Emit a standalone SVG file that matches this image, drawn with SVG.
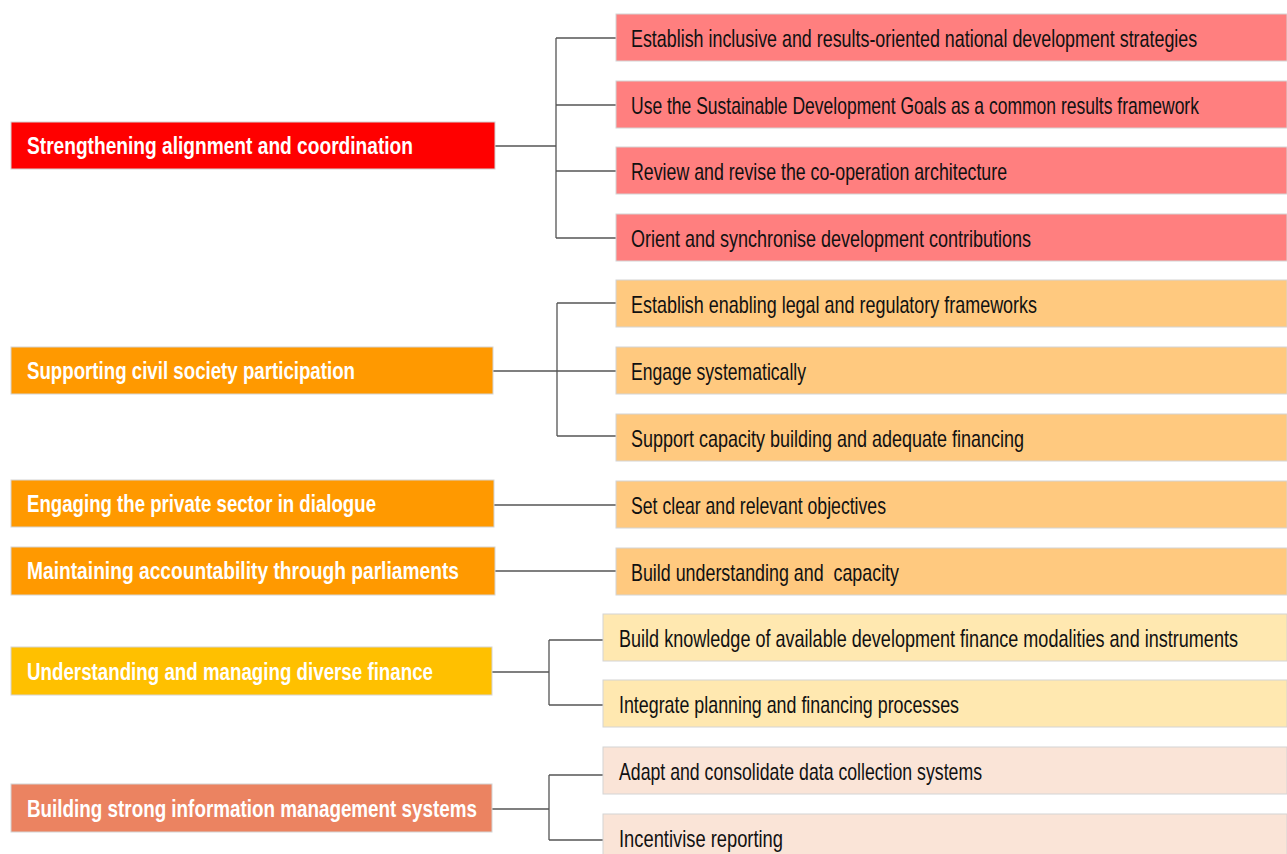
<svg xmlns="http://www.w3.org/2000/svg" width="1287" height="854" viewBox="0 0 1287 854">
<style>
.lt{font-family:"Liberation Sans Narrow","Liberation Sans",Arial,sans-serif;font-weight:bold;font-size:24px;fill:#ffffff}
.rt{font-family:"Liberation Sans Narrow","Liberation Sans",Arial,sans-serif;font-size:24px;fill:#111111}
.bx{stroke:#d4d4d4;stroke-width:1}
.c{fill:none;stroke:#555555;stroke-width:1.3}
.red{fill:#ff0000}.salmon{fill:#ff7f7f}
.org{fill:#ff9900}.lorg{fill:#ffc97f}
.gold{fill:#ffc000}.lyel{fill:#ffe8b0}
.coral{fill:#eb8361}.peach{fill:#fae4d7}
</style>
<rect width="1287" height="854" fill="#ffffff"/>
<g id="connectors">
<path class="c" d="M495,146H556M556,38V238M556,38H616M556,105H616M556,171H616M556,238H616"/>
<path class="c" d="M493,371H557M557,303V436M557,303H616M557,371H616M557,436H616"/>
<path class="c" d="M494,505H616"/>
<path class="c" d="M495,571H616"/>
<path class="c" d="M492,672H549M549,640V705M549,640H603M549,705H603"/>
<path class="c" d="M492,809H549M549,775V840M549,775H603M549,840H603"/>
</g>
<g id="n-strengthening"><rect class="bx red" x="11" y="122" width="484" height="47"/><text class="lt" x="27" y="154" textLength="386" lengthAdjust="spacingAndGlyphs">Strengthening alignment and coordination</text></g>
<g id="n-civil"><rect class="bx org" x="11" y="347" width="482" height="47"/><text class="lt" x="27" y="379" textLength="328" lengthAdjust="spacingAndGlyphs">Supporting civil society participation</text></g>
<g id="n-private"><rect class="bx org" x="11" y="480" width="483" height="47"/><text class="lt" x="27" y="512" textLength="349" lengthAdjust="spacingAndGlyphs">Engaging the private sector in dialogue</text></g>
<g id="n-parliaments"><rect class="bx org" x="11" y="547" width="484" height="48"/><text class="lt" x="27" y="579" textLength="432" lengthAdjust="spacingAndGlyphs">Maintaining accountability through parliaments</text></g>
<g id="n-finance"><rect class="bx gold" x="11" y="647" width="481" height="48"/><text class="lt" x="27" y="680" textLength="406" lengthAdjust="spacingAndGlyphs">Understanding and managing diverse finance</text></g>
<g id="n-information"><rect class="bx coral" x="11" y="784" width="481" height="48"/><text class="lt" x="27" y="817" textLength="450" lengthAdjust="spacingAndGlyphs">Building strong information management systems</text></g>

<g id="r1"><rect class="bx salmon" x="616" y="14" width="671" height="47"/><text class="rt" transform="translate(631,47) scale(0.745,1)" textLength="760" lengthAdjust="spacingAndGlyphs">Establish inclusive and results-oriented national development strategies</text></g>
<g id="r2"><rect class="bx salmon" x="616" y="81" width="671" height="47"/><text class="rt" transform="translate(631,114) scale(0.73,1)" textLength="778" lengthAdjust="spacingAndGlyphs">Use the Sustainable Development Goals as a common results framework</text></g>
<g id="r3"><rect class="bx salmon" x="616" y="147" width="671" height="47"/><text class="rt" x="631" y="180" textLength="376" lengthAdjust="spacingAndGlyphs">Review and revise the co-operation architecture</text></g>
<g id="r4"><rect class="bx salmon" x="616" y="214" width="671" height="47"/><text class="rt" x="631" y="247" textLength="400" lengthAdjust="spacingAndGlyphs">Orient and synchronise development contributions</text></g>
<g id="r5"><rect class="bx lorg" x="616" y="280" width="671" height="47"/><text class="rt" x="631" y="313" textLength="406" lengthAdjust="spacingAndGlyphs">Establish enabling legal and regulatory frameworks</text></g>
<g id="r6"><rect class="bx lorg" x="616" y="347" width="671" height="47"/><text class="rt" x="631" y="380" textLength="175" lengthAdjust="spacingAndGlyphs">Engage systematically</text></g>
<g id="r7"><rect class="bx lorg" x="616" y="414" width="671" height="47"/><text class="rt" x="631" y="447" textLength="393" lengthAdjust="spacingAndGlyphs">Support capacity building and adequate financing</text></g>
<g id="r8"><rect class="bx lorg" x="616" y="481" width="671" height="47"/><text class="rt" x="631" y="514" textLength="255" lengthAdjust="spacingAndGlyphs">Set clear and relevant objectives</text></g>
<g id="r9"><rect class="bx lorg" x="616" y="548" width="671" height="47"/><text class="rt" x="631" y="581" textLength="268" lengthAdjust="spacingAndGlyphs" xml:space="preserve">Build understanding and  capacity</text></g>
<g id="r10"><rect class="bx lyel" x="603" y="614" width="684" height="47"/><text class="rt" transform="translate(619,647) scale(0.753,1)" textLength="822" lengthAdjust="spacingAndGlyphs">Build knowledge of available development finance modalities and instruments</text></g>
<g id="r11"><rect class="bx lyel" x="603" y="680" width="684" height="47"/><text class="rt" x="619" y="713" textLength="340" lengthAdjust="spacingAndGlyphs">Integrate planning and financing processes</text></g>
<g id="r12"><rect class="bx peach" x="603" y="747" width="684" height="47"/><text class="rt" x="619" y="780" textLength="363" lengthAdjust="spacingAndGlyphs">Adapt and consolidate data collection systems</text></g>
<g id="r13"><rect class="bx peach" x="603" y="814" width="684" height="47"/><text class="rt" x="619" y="847" textLength="164" lengthAdjust="spacingAndGlyphs">Incentivise reporting</text></g>
</svg>
